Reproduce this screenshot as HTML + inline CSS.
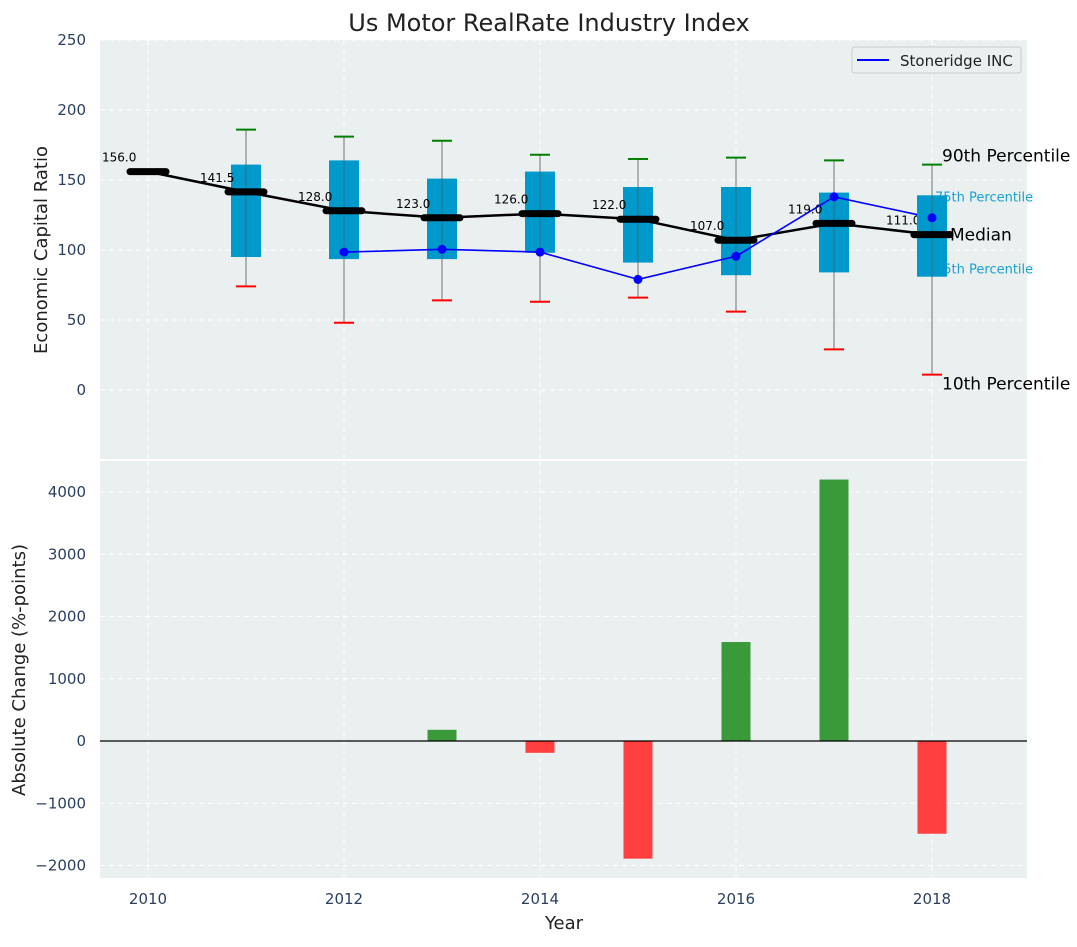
<!DOCTYPE html>
<html><head><meta charset="utf-8"><style>
body{margin:0;background:#fff;font-family:"Liberation Sans","DejaVu Sans",sans-serif}
svg text{font-family:"DejaVu Sans","Liberation Sans",sans-serif}
</style></head><body>
<svg id="chart" width="1077" height="942" viewBox="0 0 1077 942" xmlns="http://www.w3.org/2000/svg">
<text x="549" y="31" font-size="24" text-anchor="middle" fill="#222">Us Motor RealRate Industry Index</text>
<rect x="100" y="40" width="927" height="419" fill="#eaeff0"/>
<rect x="100" y="461" width="927" height="417" fill="#eaeff0"/>
<g id="topg"></g><g id="botg"></g>
<text transform="translate(47,250) rotate(-90)" font-size="18" text-anchor="middle" fill="#222">Economic Capital Ratio</text>
<text transform="translate(25,670) rotate(-90)" font-size="18" text-anchor="middle" fill="#222">Absolute Change (%-points)</text>
<text x="564" y="929" font-size="18" text-anchor="middle" fill="#222">Year</text>
<g>
<rect x="852" y="47" width="169" height="26" rx="3" fill="#eaeff0" stroke="#ccc"/>
<line x1="857" y1="60" x2="889" y2="60" stroke="#0000ff" stroke-width="2"/>
<text x="900" y="66" font-size="15" fill="#222">Stoneridge INC</text>
</g>
</svg>
<script>
const years=[2010,2011,2012,2013,2014,2015,2016,2017,2018];
const medians=[156,141.5,128,123,126,122,107,119,111];
const q75=[null,161,164,151,156,145,145,141,139];
const q25=[null,95,93.5,93.5,98,91,82,84,81];
const p90=[null,186,181,178,168,165,166,164,161];
const p10=[null,74,48,64,63,66,56,29,11];
const company=[null,null,98.5,100.5,98.5,79,95.5,138,123];
const changes=[null,null,null,180,-190,-1890,1590,4200,-1490];
const topTicks=[0,50,100,150,200,250];
const botTicks=[-2000,-1000,0,1000,2000,3000,4000];
const xTicks=[2010,2012,2014,2016,2018];
const NS="http://www.w3.org/2000/svg";
const X=v=>148+(v-2010)*98;
const YT=v=>390-v*1.4;
const YB=v=>741-v*0.06225;
function mk(p,tag,a,txt){const e=document.createElementNS(NS,tag);for(const k in a)e.setAttribute(k,a[k]);if(txt!==undefined)e.textContent=txt;p.appendChild(e);return e;}
const topG=document.getElementById('topg'),botG=document.getElementById('botg');
topTicks.forEach(t=>{const g=mk(topG,'line',{x1:100,x2:1027,y1:YT(t),y2:YT(t),stroke:'#fff','stroke-dasharray':'5,4'});


const l=mk(topG,'text',{x:86,y:YT(t)+5,'font-size':15,'text-anchor':'end',fill:'#2a3f5f'},t);

});
botTicks.forEach(t=>{const g=mk(botG,'line',{x1:100,x2:1027,y1:YB(t),y2:YB(t),stroke:'#fff','stroke-dasharray':'5,4'});


const l=mk(botG,'text',{x:86,y:YB(t)+5,'font-size':15,'text-anchor':'end',fill:'#2a3f5f'},t<0?'\u2212'+(-t):t);

});
xTicks.forEach(t=>{[topG,botG].forEach((p,i)=>{const g=mk(p,'line',{x1:X(t),x2:X(t),y1:i?461:40,y2:i?878:459,stroke:'#fff','stroke-dasharray':'5,4'});

});
const l=mk(botG,'text',{x:X(t),y:904,'font-size':15,'text-anchor':'middle',fill:'#2a3f5f'},t);

});
years.forEach((y,i)=>{if(q75[i]==null)return;const x=X(y);
const w=mk(topG,'line',{x1:x,x2:x,y1:YT(p90[i]),y2:YT(p10[i]),stroke:'#888','stroke-width':1.2});


const b=mk(topG,'rect',{x:x-15,y:YT(q75[i]),width:30,height:YT(q25[i])-YT(q75[i]),fill:'#0099cc'});


mk(topG,'line',{x1:x,x2:x,y1:YT(q75[i]),y2:YT(q25[i]),stroke:'#555','stroke-width':1,'stroke-opacity':0.6});
const c1=mk(topG,'line',{x1:x-10,x2:x+10,y1:YT(p90[i]),y2:YT(p90[i]),stroke:'#008000','stroke-width':2});


const c2=mk(topG,'line',{x1:x-10,x2:x+10,y1:YT(p10[i]),y2:YT(p10[i]),stroke:'#ff0000','stroke-width':2});

});
const ml=mk(topG,'polyline',{points:years.map((y,i)=>X(y)+','+YT(medians[i])).join(' '),fill:'none',stroke:'#000','stroke-width':2.5});


years.forEach((y,i)=>{const s=mk(topG,'line',{x1:X(y)-18,x2:X(y)+18,y1:YT(medians[i]),y2:YT(medians[i]),stroke:'#000','stroke-width':7,'stroke-linecap':'round'});


const t=mk(topG,'text',{x:X(y)-46,y:YT(medians[i])-10,'font-size':12,fill:'#000'},medians[i].toFixed(1));

});
const pts=[];years.forEach((y,i)=>{if(company[i]!=null)pts.push([X(y),YT(company[i])]);});
const cl=mk(topG,'polyline',{points:pts.map(p=>p.join(',')).join(' '),fill:'none',stroke:'#0000ff','stroke-width':1.6});


pts.forEach(p=>{const d=mk(topG,'circle',{cx:p[0],cy:p[1],r:4.5,fill:'#0000ff'});

});
const lx=X(2018);
[[lx+10,YT(p90[8])-3,'90th Percentile',17,'#000'],[lx+3,YT(q75[8])+6,'75th Percentile',13,'#1aa0d0'],[lx+18,YT(medians[8])+6,'Median',17,'#000'],[lx+3,YT(q25[8])-3,'25th Percentile',13,'#1aa0d0'],[lx+10,YT(p10[8])+15,'10th Percentile',17,'#000']].forEach(a=>{
const t=mk(topG,'text',{x:a[0],y:a[1],'font-size':a[3],fill:a[4]},a[2]);

});
{const i=8,x=X(2018);mk(topG,'rect',{x:x-15,y:YT(q75[i]),width:30,height:YT(q25[i])-YT(q75[i]),fill:'#0099cc'});
mk(topG,'line',{x1:x,x2:x,y1:YT(q75[i]),y2:YT(q25[i]),stroke:'#555','stroke-width':1,'stroke-opacity':0.6});
mk(topG,'line',{x1:x-18,x2:x+18,y1:YT(medians[i]),y2:YT(medians[i]),stroke:'#000','stroke-width':7,'stroke-linecap':'round'});
mk(topG,'circle',{cx:x,cy:YT(company[i]),r:4.5,fill:'#0000ff'});}
years.forEach((y,i)=>{if(changes[i]==null)return;const v=changes[i];
const b=mk(botG,'rect',{x:X(y)-14.5,y:Math.min(YB(v),YB(0)),width:29,height:Math.abs(YB(v)-YB(0)),fill:v>=0?'#3a9a3a':'#ff3f3f'});

});
const z=mk(botG,'line',{x1:100,x2:1027,y1:YB(0),y2:YB(0),stroke:'#000','stroke-width':1.2});


</script>
</body></html>
